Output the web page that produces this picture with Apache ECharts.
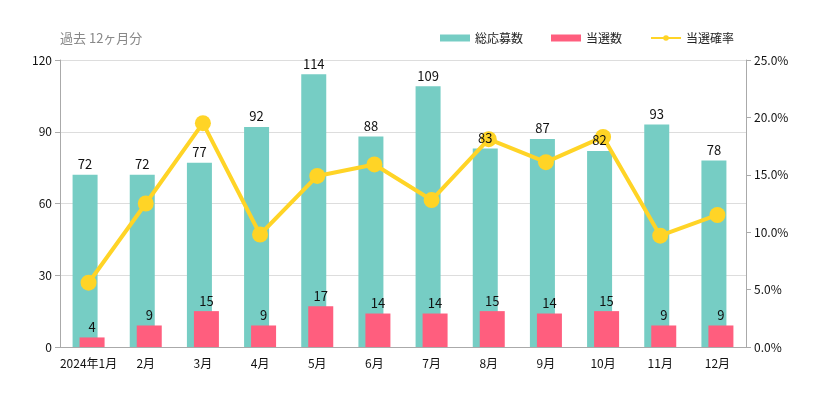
<!DOCTYPE html>
<html>
<head>
<meta charset="utf-8">
<script src="https://cdn.jsdelivr.net/npm/echarts@6/dist/echarts.min.js"></script>
<style>
  html, body { margin: 0; padding: 0; background: #fff; }
  #chart { width: 832px; height: 397px; }
</style>
</head>
<body>
<div id="chart"></div>
<script>
// データ
const months = ['2024年1月', '2月', '3月', '4月', '5月', '6月', '7月', '8月', '9月', '10月', '11月', '12月'];
const applicants = [72, 72, 77, 92, 114, 88, 109, 83, 87, 82, 93, 78];
const winners = [4, 9, 15, 9, 17, 14, 14, 15, 14, 15, 9, 9];
const winRate = [5.6, 12.5, 19.5, 9.8, 14.9, 15.9, 12.8, 18.1, 16.1, 18.3, 9.7, 11.5];

const FONT = '"Noto Sans CJK JP", "DejaVu Sans", sans-serif';

document.addEventListener('DOMContentLoaded', function() {
    const chart = echarts.init(document.getElementById('chart'));
    const barLabel = { show: true, position: 'top', color: '#111', fontSize: 13, distance: 4 };
    const option = {
        animation: false,
        textStyle: { fontFamily: FONT },
        title: {
            text: '過去 12ヶ月分',
            left: 55,
            top: 27,
            textStyle: { color: '#888', fontSize: 13, fontWeight: 'normal', fontFamily: FONT }
        },
        legend: {
            right: 93,
            top: 27,
            itemWidth: 30,
            itemHeight: 7,
            itemGap: 28,
            textStyle: { color: '#222', fontSize: 12, fontFamily: FONT },
            data: [
                { name: '総応募数', icon: 'rect' },
                { name: '当選数', icon: 'rect' },
                { name: '当選確率' }
            ]
        },
        grid: { left: 60, right: 86, top: 60, bottom: 50 },
        xAxis: [
            {
                type: 'category',
                data: months,
                axisLine: { lineStyle: { color: '#aaa' } },
                axisTick: { lineStyle: { color: '#aaa' } },
                axisLabel: { color: '#111', fontSize: 12, margin: 10, interval: 0 }
            },
            {
                // 数値ラベルを折れ線の上に描くための重ね用
                type: 'category',
                data: months,
                show: false
            }
        ],
        yAxis: [
            {
                type: 'value',
                min: 0, max: 120, interval: 30,
                axisLine: { show: true, lineStyle: { color: '#aaa' } },
                axisTick: { show: true, lineStyle: { color: '#aaa' } },
                axisLabel: { color: '#111', fontSize: 12 },
                splitLine: { lineStyle: { color: '#ddd' } }
            },
            {
                type: 'value',
                min: 0, max: 25, interval: 5,
                axisLine: { show: true, lineStyle: { color: '#aaa' } },
                axisTick: { show: true, lineStyle: { color: '#aaa' } },
                axisLabel: {
                    color: '#111', fontSize: 12,
                    formatter: function(v) { return v.toFixed(1) + '%'; }
                },
                splitLine: { show: false }
            }
        ],
        series: [
            {
                name: '総応募数',
                type: 'bar',
                data: applicants,
                barWidth: 25,
                barGap: '-72%',
                itemStyle: { color: '#76cdc4' }
            },
            {
                name: '当選数',
                type: 'bar',
                data: winners,
                barWidth: 25,
                itemStyle: { color: '#ff5e7e' }
            },
            {
                name: '当選確率',
                type: 'line',
                yAxisIndex: 1,
                data: winRate,
                z: 3,
                symbol: 'circle',
                symbolSize: 16,
                lineStyle: { color: '#ffd426', width: 4 },
                itemStyle: { color: '#ffd426' }
            },
            {
                name: 'lbl1',
                type: 'bar',
                xAxisIndex: 1,
                data: applicants,
                barWidth: 25,
                barGap: '-72%',
                z: 10,
                silent: true,
                itemStyle: { color: 'rgba(0,0,0,0)' },
                label: barLabel
            },
            {
                name: 'lbl2',
                type: 'bar',
                xAxisIndex: 1,
                data: winners,
                barWidth: 25,
                z: 10,
                silent: true,
                itemStyle: { color: 'rgba(0,0,0,0)' },
                label: barLabel
            }
        ]
    };
    chart.setOption(option);
});
</script>
</body>
</html>
